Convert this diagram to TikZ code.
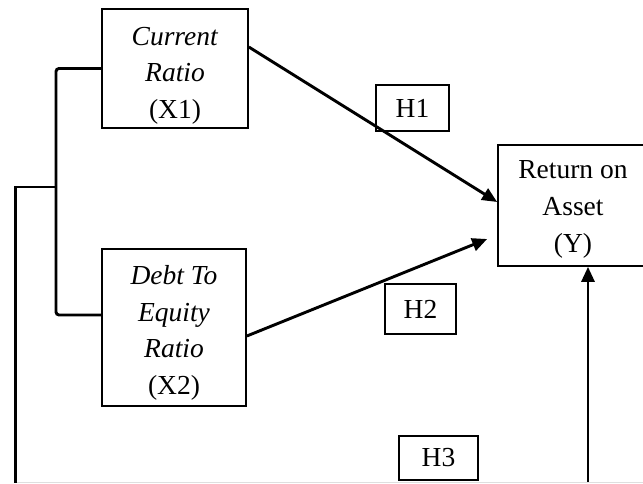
\documentclass[tikz,border=0pt]{standalone}
\usepackage{fontspec}
\setmainfont{Liberation Serif}
\usetikzlibrary{arrows.meta}
\usetikzlibrary{positioning}

\begin{document}
\begin{tikzpicture}[x=1pt,y=-1pt,
    varbox/.style={draw, line width=1.7pt, inner sep=0pt},
    vartext/.style={align=center, inner sep=0pt, font=\fontsize{27.5}{36.6}\selectfont},
    hypbox/.style={draw, line width=1.7pt, inner sep=0pt, font=\fontsize{27.5}{33}\selectfont},
    link/.style={line width=2.9pt},
    arrowlink/.style={line width=2.9pt, -{Triangle[length=15pt,width=13pt]}}]
  \useasboundingbox (0,0) rectangle (643,483);

  % Draw the variable boxes
  \node[varbox, minimum width=146pt, minimum height=119pt] (x1) at (175,68.5) {};
  \node[varbox, minimum width=144pt, minimum height=157pt] (x2) at (174,327.5) {};
  \node[varbox, minimum width=150pt, minimum height=121pt] (y) at (573,205.5) {};

  % Label the variables
  \node[vartext] (x1text) at ([yshift=-7pt]x1.center) {\textit{Current}\\\textit{Ratio}\\(X1)};
  \node[vartext] (x2text) at ([yshift=-5.5pt]x2.center) {\textit{Debt To}\\\textit{Equity}\\\textit{Ratio}\\(X2)};
  \node[vartext] (ytext) at ([yshift=-4pt]y.center) {Return on\\Asset\\(Y)};

  % Draw the hypothesis boxes
  \node[hypbox, minimum width=73pt, minimum height=46pt] (h1) at (412.5,108) {H1};
  \node[hypbox, minimum width=71pt, minimum height=50pt] (h2) at (420.5,309) {H2};
  \node[hypbox, minimum width=79pt, minimum height=44pt] (h3) at (438.5,458) {H3};

  % Draw the arrows into Y
  \draw[arrowlink] ([yshift=21.5pt]x1.east) -- ([yshift=3.5pt]y.west);
  \draw[arrowlink] ([yshift=-8.5pt]x2.east) -- ([xshift=-10pt,yshift=-33.5pt]y.west);

  % Define the points of the joint path
  \coordinate (split) at (56,187);
  \coordinate (corner) at (15.5,187);
  \coordinate (bottom) at (15.5,483);
  \coordinate (rbottom) at (588,483);

  % Draw the bracket joining X1 and X2
  \draw[link, rounded corners=3pt] (x1.west) -| (split) |- ([yshift=12.5pt]x2.west);
  \draw[link] (split) -- (corner) -- (bottom);
  \draw[arrowlink] (rbottom) -- (rbottom |- y.south);

  % Page edge
  \draw[gray!25, line width=0.6pt] (17,482.4) -- (643,482.4);
\end{tikzpicture}
\end{document}
